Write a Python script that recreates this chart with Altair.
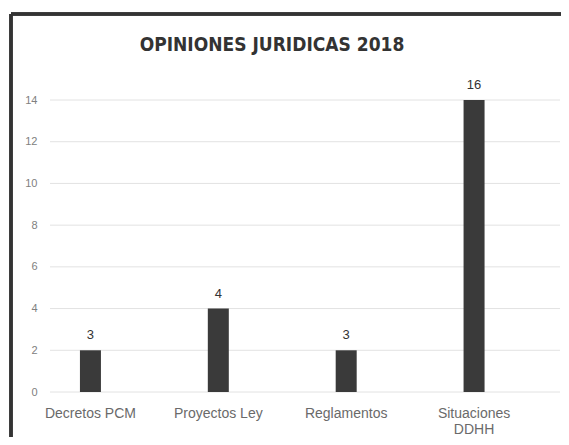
import altair as alt
import pandas as pd

categories = ["Decretos PCM", "Proyectos Ley", "Reglamentos", "Situaciones DDHH"]
bar_heights = [2, 4, 2, 14]
bar_labels = ["3", "4", "3", "16"]
y_ticks = [0, 2, 4, 6, 8, 10, 12, 14]
chart_title = "OPINIONES JURIDICAS 2018"

df = pd.DataFrame({"cat": categories, "val": bar_heights, "lab": bar_labels})
grid_df = pd.DataFrame({"tick": y_ticks})
title_df = pd.DataFrame({"t": [chart_title]})

W, H = 510, 292

x_enc = alt.X(
    "cat:N",
    sort=categories,
    title=None,
    scale=alt.Scale(range=[-23.5, 488], paddingInner=0, paddingOuter=0),
    axis=alt.Axis(
        labelAngle=0,
        domain=False,
        ticks=False,
        grid=False,
        labelPadding=14,
        labelFontSize=14,
        labelColor="#6a6a6a",
        labelFont="Liberation Sans",
        labelLineHeight=16,
        labelExpr="datum.label == 'Situaciones DDHH' ? ['Situaciones', 'DDHH'] : datum.label",
    ),
)
y_scale = alt.Scale(domain=[0, 14], nice=False)
y_axis = alt.Axis(
    values=y_ticks,
    domain=False,
    ticks=False,
    grid=False,
    labelPadding=13,
    labelFontSize=11,
    labelColor="#808080",
    labelFont="Liberation Sans",
)

grid = alt.Chart(grid_df).mark_rule(color="#e2e2e2", strokeWidth=1).encode(
    y=alt.Y("tick:Q", scale=y_scale, axis=y_axis, title=None),
    x=alt.value(0),
    x2=alt.value(W),
)

bars = alt.Chart(df).mark_bar(size=21, color="#3a3a3a").encode(
    x=x_enc, y=alt.Y("val:Q", scale=y_scale, axis=y_axis, title=None)
)

labels = alt.Chart(df).mark_text(
    baseline="bottom", dy=-8, fontSize=13, color="#333333", font="Liberation Sans"
).encode(x=alt.X("cat:N", sort=categories), y="val:Q", text="lab:N")

title_mark = alt.Chart(title_df).mark_text(
    font="DejaVu Sans Condensed",
    fontSize=19,
    fontWeight="bold",
    color="#333333",
    align="center",
    baseline="middle",
).encode(x=alt.value(222), y=alt.value(-55), text="t:N")

frame_left = alt.Chart(df).mark_rule(color="#333333", strokeWidth=3).encode(
    x=alt.value(-39), y=alt.value(-86), y2=alt.value(H + 60)
)
frame_top = alt.Chart(df).mark_rule(color="#333333", strokeWidth=3).encode(
    x=alt.value(-39), x2=alt.value(W + 30), y=alt.value(-86)
)

chart = (
    alt.layer(grid, bars, labels, title_mark, frame_left, frame_top)
    .properties(
        width=W,
        height=H,
        autosize=alt.AutoSizeParams(type="none"),
        padding={"left": 42, "top": 92, "right": 1, "bottom": 45},
        background="#ffffff",
    )
    .configure_view(strokeWidth=0, stroke="transparent")
)

chart.save("out.html", embed_options={"renderer": "svg", "actions": False})
